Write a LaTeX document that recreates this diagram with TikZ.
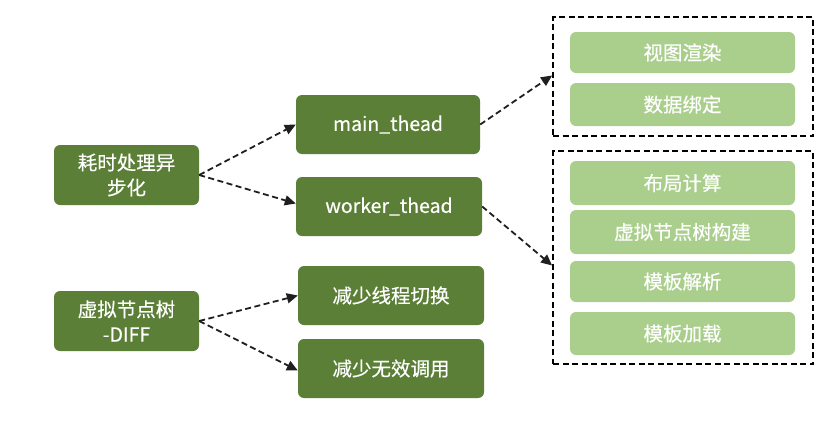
\documentclass[tikz,border=0pt]{standalone}
\usepackage{fontspec}
\setmainfont{Noto Sans CJK SC}[FakeBold=0.4]
\usetikzlibrary{arrows.meta}
\definecolor{dkgreen}{HTML}{5B7F36}
\definecolor{ltgreen}{HTML}{AACF8D}
\tikzset{
  darkbox/.style={fill=dkgreen, rounded corners=6pt, text=white, font=\fontsize{19.5}{25}\selectfont, align=center, inner sep=0pt},
  lightbox/.style={fill=ltgreen, rounded corners=6pt, text=white, font=\fontsize{19.5}{25}\selectfont, inner sep=0pt, minimum width=225pt},
  groupbox/.style={draw=black, line width=1.8pt, dash pattern=on 6pt off 3.5pt},
  conn/.style={draw=black!88, line width=1.8pt, dash pattern=on 6pt off 3.5pt, -{Triangle[length=11pt,width=10pt]}}
}
\begin{document}
\begin{tikzpicture}[x=1pt,y=-1pt]
\useasboundingbox (0,0) rectangle (835,424);
% left boxes
\node[darkbox, minimum width=145pt, minimum height=60pt] (a1) at (126.5,175) {耗时处理异\\步化};
\node[darkbox, minimum width=145pt, minimum height=60pt] (a2) at (126.5,321) {虚拟节点树\\-DIFF};
% middle boxes
\node[darkbox, minimum width=184pt, minimum height=59pt] (m1) at (388,124.5) {main\_thead};
\node[darkbox, minimum width=186pt, minimum height=59pt] (m2) at (389,206.5) {worker\_thead};
\node[darkbox, minimum width=186pt, minimum height=59pt] (m3) at (391,295.5) {减少线程切换};
\node[darkbox, minimum width=186pt, minimum height=59pt] (m4) at (391,368.5) {减少无效调用};
% group boxes
\node[groupbox, minimum width=260pt, minimum height=119pt, inner sep=0pt] (g1) at (683,76.5) {};
\node[groupbox, minimum width=260pt, minimum height=213pt, inner sep=0pt] (g2) at (683,257.5) {};
% inner boxes
\node[lightbox, minimum height=41pt] (r1) at (682.5,52.5) {视图渲染};
\node[lightbox, minimum height=43pt] (r2) at (682.5,104.5) {数据绑定};
\node[lightbox, minimum height=44pt] (r3) at (682.5,183) {布局计算};
\node[lightbox, minimum height=44pt] (r4) at (682.5,232) {虚拟节点树构建};
\node[lightbox, minimum height=41pt] (r5) at (682.5,281.5) {模板解析};
\node[lightbox, minimum height=43pt] (r6) at (682.5,333.5) {模板加载};
% connectors
\draw[conn] (a1.east) -- (m1.west);
\draw[conn] (a1.east) -- ([yshift=3pt]m2.west);
\draw[conn] (a2.east) -- (m3.west);
\draw[conn] (a2.east) -- ([yshift=-2pt]m4.west);
\draw[conn] (m1.east) -- ([yshift=1pt]g1.west);
\draw[conn] (m2.east) -- ([yshift=-8pt]g2.west);
\end{tikzpicture}
\end{document}
